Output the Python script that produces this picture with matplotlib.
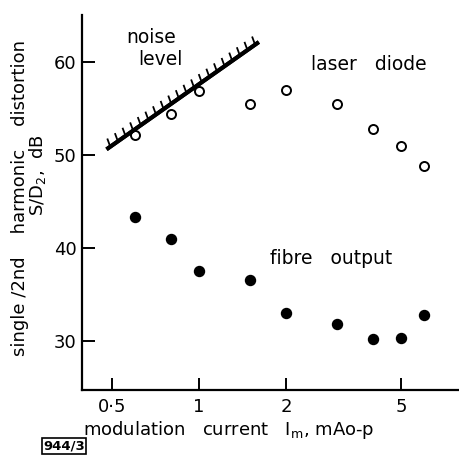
import matplotlib
matplotlib.use("Agg")
import matplotlib.pyplot as plt
import matplotlib.patheffects as pe
from matplotlib.ticker import FixedLocator, FixedFormatter, NullLocator

# modulation current, mA o-p
current = [0.6, 0.8, 1.0, 1.5, 2.0, 3.0, 4.0, 5.0, 6.0]
laser_diode = [52.1, 54.4, 56.9, 55.5, 57.0, 55.5, 52.8, 51.0, 48.8]
fibre_output = [43.3, 41.0, 37.6, 36.6, 33.1, 31.9, 30.3, 30.4, 32.8]

# noise level line end points
noise_x = [0.48, 1.61]
noise_y = [50.6, 62.1]

xticks = [0.5, 1, 2, 5]
xtick_labels = ["0\u00b75", "1", "2", "5"]
yticks = [30, 40, 50, 60]

plt.rcParams['font.family'] = ['DejaVu Sans']

fig = plt.figure(figsize=(4.59, 4.59), dpi=100)
ax = fig.add_axes([82/459, 1 - 390/459, 1 - 82/459, (390 - 15)/459])

ax.set_xscale('log')
ax.set_xlim(0.395, 7.9)
ax.set_ylim(24.8, 65.0)

ax.plot(current, laser_diode, 'o', mfc='white', mec='black', mew=1.4, ms=6.5)
ax.plot(current, fibre_output, 'o', color='black', ms=7.2)

ax.plot(noise_x, noise_y, color='black', lw=2.9, solid_capstyle='butt',
        path_effects=[pe.withTickedStroke(spacing=6.6, angle=75, length=0.95, linewidth=1.3),
                      pe.Normal()])

ax.xaxis.set_major_locator(FixedLocator(xticks))
ax.xaxis.set_major_formatter(FixedFormatter(xtick_labels))
ax.xaxis.set_minor_locator(NullLocator())
ax.set_yticks(yticks)

for s in ['top', 'right']:
    ax.spines[s].set_visible(False)
for s in ['left', 'bottom']:
    ax.spines[s].set_linewidth(1.6)
ax.tick_params(direction='in', length=9, width=1.4, labelsize=13, pad=4)
ax.tick_params(axis='x', pad=6)

ax.text(0.683, 62.6, "noise", fontsize=13.5, ha='center', va='center')
ax.text(0.734, 60.2, "level", fontsize=13.5, ha='center', va='center')
ax.text(3.86, 59.7, "laser   diode", fontsize=13.5, ha='center', va='center')
ax.text(2.87, 38.9, "fibre   output", fontsize=13.5, ha='center', va='center')

fig.text(20/459, 1 - 198/459, "single /2nd    harmonic    distortion", rotation=90,
         fontsize=13, ha='center', va='center')
fig.text(38/459, 1 - 175/459, "S/D$_2$,  dB", rotation=90,
         fontsize=13, ha='center', va='center')
fig.text(229/459, 1 - 430/459, "modulation   current   I$_\\mathregular{m}$, mAo-p",
         fontsize=13, ha='center', va='center')
fig.text(64/459, 1 - 446/459, "944/3", fontsize=9.5, ha='center', va='center',
         weight='bold',
         bbox=dict(boxstyle='square,pad=0.12', fc='white', ec='black', lw=1.2))

fig.savefig("out.png", dpi=100)
